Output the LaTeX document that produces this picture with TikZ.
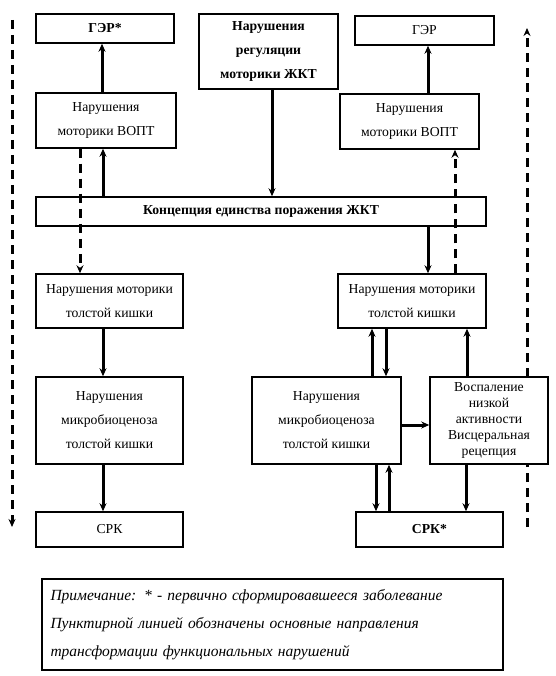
\documentclass[tikz,border=0pt]{standalone}
\usepackage{fontspec}
\setmainfont{Liberation Serif}
\usetikzlibrary{arrows.meta,positioning,calc}

\begin{document}
\begin{tikzpicture}[x=1pt,y=-1pt,>=Stealth,
  blk/.style={draw,fill=white,line width=1.5pt,align=center,inner sep=0pt,font=\fontsize{13.7}{24}\selectfont},
  bfblk/.style={blk,font=\fontsize{13.7}{24}\selectfont\bfseries},
  arr/.style={-{Stealth[length=8pt,width=7pt]},line width=3pt},
  darr/.style={arr,dash pattern=on 9pt off 6pt}]
\useasboundingbox (0,0) rectangle (555,676);
% side dashed, behind the boxes
\coordinate (lt) at (12,20);
\coordinate (lb) at (12,527);
\coordinate (rb) at (527,527);
\coordinate (rt) at (527,28);
\draw[darr] (lt) -- (lb);
\draw[darr] (rb) -- (rt);
% top row
\node[bfblk,minimum width=138pt,minimum height=29pt] (gerL) at (105,28.5) {ГЭР*};
\node[bfblk,minimum width=139pt,minimum height=75pt] (reg) at (268.5,51.5) {Нарушения\\регуляции\\моторики ЖКТ};
\node[blk,minimum width=139pt,minimum height=29pt] (gerR) at (424.5,30.5) {ГЭР};
\node[blk,minimum width=140pt,minimum height=55pt] (voptL) at (106,120.5) {Нарушения\\моторики ВОПТ};
\node[blk,minimum width=139pt,minimum height=55pt] (voptR) at (409.5,121.5) {Нарушения\\моторики ВОПТ};
\node[bfblk,minimum width=450pt,minimum height=29pt] (konc) at (261,211.5) {Концепция единства поражения ЖКТ};
% colon
\node[blk,minimum width=147pt,minimum height=54pt] (nmtkL) at (109.5,301) {Нарушения моторики\\толстой кишки};
\node[blk,minimum width=148pt,minimum height=54pt] (nmtkR) at (412,301) {Нарушения моторики\\толстой кишки};
\node[blk,minimum width=147pt,minimum height=87pt] (mikL) at (109.5,420.5) {Нарушения\\микробиоценоза\\толстой кишки};
\node[blk,minimum width=149pt,minimum height=87pt] (mikR) at (326.5,420.5) {Нарушения\\микробиоценоза\\толстой кишки};
\node[blk,minimum width=118pt,minimum height=87pt,font=\fontsize{13.7}{16}\selectfont] (vosp) at (489,420.5) {Воспаление\\низкой\\активности\\Висцеральная\\рецепция};
\node[blk,minimum width=147pt,minimum height=35pt] (srkL) at (109.5,529.5) {СРК};
\node[bfblk,minimum width=147pt,minimum height=35pt] (srkR) at (429.5,529.5) {СРК*};
% note
\node[draw,line width=1.5pt,minimum width=461pt,minimum height=91pt,text width=444pt,align=left,
  font=\itshape\fontsize{15.5}{28}\selectfont] (note) at (272.5,624.5)
  {Примечание: * - первично сформировавшееся заболевание\\
   \makebox[444pt][s]{Пунктирной линией обозначены основные направления}\\
   трансформации функциональных нарушений};
% arrows left
\draw[arr] ([xshift=-4pt]voptL.north) -- ([xshift=-4pt]voptL.north |- gerL.south);
\draw[arr] ([xshift=-3pt]voptL.south |- konc.north) -- ([xshift=-3pt]voptL.south);
\draw[darr] ([xshift=-26pt]voptL.south) -- ([xshift=-26pt]voptL.south |- nmtkL.north);
\draw[arr] ([xshift=3.5pt]reg.south) -- ([xshift=3.5pt]reg.south |- konc.north);
\draw[arr] ([xshift=-6.5pt]nmtkL.south) -- ([xshift=-6.5pt]mikL.north);
\draw[arr] ([xshift=-6.5pt]mikL.south) -- ([xshift=-6.5pt]srkL.north);
% arrows right
\draw[arr] ([xshift=16pt]nmtkR.north |- konc.south) -- ([xshift=16pt]nmtkR.north);
\draw[darr] ([xshift=43pt]nmtkR.north) -- ([xshift=43pt]nmtkR.north |- voptR.south);
\draw[arr] ([xshift=18.5pt]voptR.north) -- ([xshift=18.5pt]voptR.north |- gerR.south);
\draw[arr] ([xshift=45.5pt]mikR.north) -- ([xshift=45.5pt]mikR.north |- nmtkR.south);
\draw[arr] ([xshift=59.5pt]mikR.north |- nmtkR.south) -- ([xshift=59.5pt]mikR.north);
\draw[arr] ([xshift=-22pt]vosp.north) -- ([xshift=-22pt]vosp.north |- nmtkR.south);
\draw[arr] ([yshift=-4.5pt]mikR.east) -- ([yshift=-4.5pt]mikR.east -| vosp.west);
\draw[arr] ([xshift=49.5pt]mikR.south) -- ([xshift=49.5pt]mikR.south |- srkR.north);
\draw[arr] ([xshift=62.5pt]mikR.south |- srkR.north) -- ([xshift=62.5pt]mikR.south);
\draw[arr] ([xshift=-23pt]vosp.south) -- ([xshift=-23pt]vosp.south |- srkR.north);
\end{tikzpicture}
\end{document}
